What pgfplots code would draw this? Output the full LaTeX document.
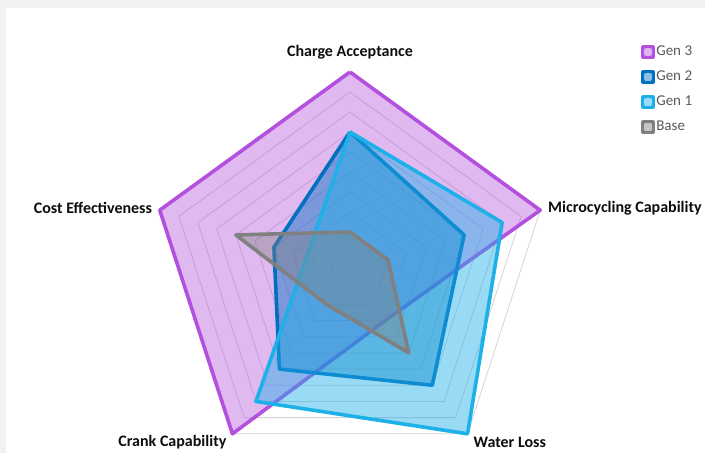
\documentclass[border=0pt]{standalone}
\usepackage{fontspec}
\setmainfont{Carlito}
\usepackage{pgfplots}
\usepgfplotslibrary{polar}
\pgfplotsset{compat=1.18}
\definecolor{gen3}{RGB}{180,80,222}
\definecolor{gen2}{RGB}{0,112,192}
\definecolor{gen1}{RGB}{30,176,232}
\definecolor{basec}{RGB}{128,128,128}
\definecolor{gridc}{RGB}{212,212,212}
\definecolor{framec}{RGB}{243,242,241}
\definecolor{legtext}{RGB}{89,89,89}
\definecolor{labtext}{RGB}{13,13,13}
\begin{document}
\begin{tikzpicture}[x=1pt,y=1pt]
\useasboundingbox (0,0) rectangle (705,453);
\fill[framec] (0,0) rectangle (705,453);
\fill[white] (6,0) rectangle (705,445);
\begin{polaraxis}[
  at={(350pt,181pt)}, anchor=center,
  scale only axis, width=400pt, height=400pt,
  ymin=0, ymax=10,
  hide axis, clip=false,
  legend style={at={(1.22,1.075)}, anchor=north west, draw=none, fill=none,
    font=\fontsize{15}{18}\selectfont, text=legtext, row sep=9pt,
    nodes={inner sep=1.5pt, text height=10pt, text depth=3pt}},
  legend cell align=left,
  every axis plot/.append style={line join=round, line width=3.6pt},
]
% grid pentagons
\addplot[gridc, line width=0.8pt, forget plot] coordinates {(90,1) (18,1) (-54,1) (-126,1) (162,1) (90,1)};
\addplot[gridc, line width=0.8pt, forget plot] coordinates {(90,2) (18,2) (-54,2) (-126,2) (162,2) (90,2)};
\addplot[gridc, line width=0.8pt, forget plot] coordinates {(90,3) (18,3) (-54,3) (-126,3) (162,3) (90,3)};
\addplot[gridc, line width=0.8pt, forget plot] coordinates {(90,4) (18,4) (-54,4) (-126,4) (162,4) (90,4)};
\addplot[gridc, line width=0.8pt, forget plot] coordinates {(90,5) (18,5) (-54,5) (-126,5) (162,5) (90,5)};
\addplot[gridc, line width=0.8pt, forget plot] coordinates {(90,6) (18,6) (-54,6) (-126,6) (162,6) (90,6)};
\addplot[gridc, line width=0.8pt, forget plot] coordinates {(90,7) (18,7) (-54,7) (-126,7) (162,7) (90,7)};
\addplot[gridc, line width=0.8pt, forget plot] coordinates {(90,8) (18,8) (-54,8) (-126,8) (162,8) (90,8)};
\addplot[gridc, line width=0.8pt, forget plot] coordinates {(90,9) (18,9) (-54,9) (-126,9) (162,9) (90,9)};
\addplot[gridc, line width=0.8pt, forget plot] coordinates {(90,10) (18,10) (-54,10) (-126,10) (162,10) (90,10)};
% series: Charge Acceptance, Microcycling, Water Loss, Crank, Cost
\addplot[draw=gen3, fill=gen3, fill opacity=0.4,
  legend image code/.code={\fill[gen3] (0pt,-5pt) rectangle (10pt,5pt); \fill[gen3!45!white] (3pt,-2pt) rectangle (7pt,2pt);}]
  coordinates {(90,10) (18,10) (-54,3) (-126,10) (162,10) (90,10)};
\addlegendentry{Gen 3}
\addplot[draw=gen2, fill=gen2, fill opacity=0.45,
  legend image code/.code={\fill[gen2] (0pt,-5pt) rectangle (10pt,5pt); \fill[gen2!45!white] (3pt,-2pt) rectangle (7pt,2pt);}]
  coordinates {(90,7) (18,6) (-54,7) (-126,6) (162,4) (90,7)};
\addlegendentry{Gen 2}
\addplot[draw=gen1, fill=gen1, fill opacity=0.45,
  legend image code/.code={\fill[gen1] (0pt,-5pt) rectangle (10pt,5pt); \fill[gen1!45!white] (3pt,-2pt) rectangle (7pt,2pt);}]
  coordinates {(90,7) (18,8) (-54,10) (-126,8) (162,2.3) (90,7)};
\addlegendentry{Gen 1}
\addplot[draw=basec, fill=basec, fill opacity=0.4,
  legend image code/.code={\fill[basec] (0pt,-5pt) rectangle (10pt,5pt); \fill[basec!45!white] (3pt,-2pt) rectangle (7pt,2pt);}]
  coordinates {(90,2) (18,2) (-54,5) (-126,2) (162,6) (90,2)};
\addlegendentry{Base}
% category labels
\begin{scope}[every node/.style={font=\fontsize{16}{19}\selectfont\bfseries, text=labtext, inner sep=0pt}]
\node[anchor=center] at (axis cs:90,11) {Charge Acceptance};
\node[anchor=west] at (axis cs:17.8,10.4) {Microcycling Capability};
\node[anchor=west] at (axis cs:-54,10.5) {Water Loss};
\node[anchor=east] at (axis cs:-126,10.5) {Crank Capability};
\node[anchor=east] at (axis cs:162,10.4) {Cost Effectiveness};
\end{scope}
\end{polaraxis}
\end{tikzpicture}
\end{document}
